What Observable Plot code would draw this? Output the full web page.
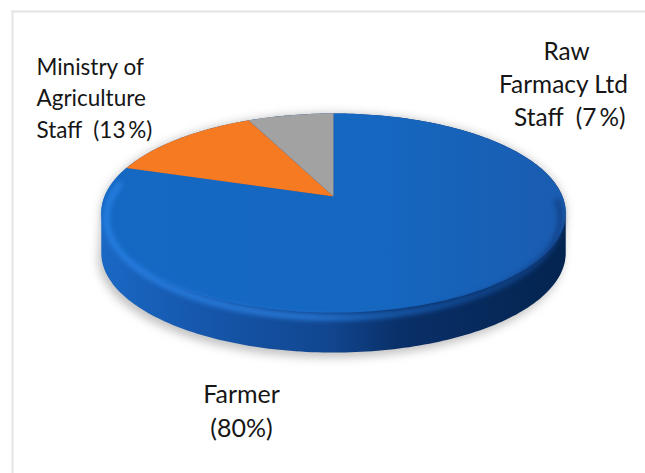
<!DOCTYPE html>
<html>
<head>
<meta charset="utf-8">
<script src="https://cdn.jsdelivr.net/npm/d3@7"></script>
<script src="https://cdn.jsdelivr.net/npm/@observablehq/plot@0.6"></script>
<style>
  html, body { margin: 0; padding: 0; background: #fff; }
  svg { display: block; }
</style>
</head>
<body>
<div id="chart"></div>
<script>
// Survey respondents by group (percent)
const groups = ["Farmer", "Ministry of Agriculture Staff", "Raw Farmacy Ltd Staff"];
const shares = [80, 13, 7];
const sliceColors = ["url(#faceBlue)", "#f67a21", "#a2a2a2"];

// Tilted-disc geometry, in pixel-sized scale units around the pie's hub
const spreadX = 229, spreadY = 96.8, tilt = 0.166, wallDepth = 40;

const project = (angle, dy = 0, dx = 0, shrink = 1) => {
  const u = Math.sin(angle), v = Math.cos(angle), w = 1 + tilt * v;
  return {x: shrink * spreadX * u / w + dx, y: spreadY * v / w - dy};
};

// One closed outline per slice: hub, then the arc of the rim
const arcs = d3.pie().sort(null)(shares);
const slicePoints = arcs.flatMap((a, i) => {
  const n = Math.ceil((a.endAngle - a.startAngle) / 0.02);
  const rim = d3.range(n + 1).map((j) => project(a.startAngle + (a.endAngle - a.startAngle) * j / n));
  return [{x: 0, y: 0}, ...rim, {x: 0, y: 0}].map((p) => ({...p, group: groups[i]}));
});

const fullRim = d3.range(0, 2 * Math.PI + 0.01, 0.02);
const hullOf = (dy, dx) => {
  const pts = fullRim.flatMap((a) => {
    const p = project(a), q = project(a, dy, dx);
    return [[p.x, p.y], [q.x, q.y]];
  });
  const hull = d3.polygonHull(pts);
  return [...hull, hull[0]].map(([x, y]) => ({x, y}));
};
const wall = hullOf(wallDepth, 0);
const shadow = hullOf(wallDepth + 5, -3);
// The bevel runs just inside the front edge of the disc
const frontRim = d3.range(Math.PI * 0.5, Math.PI * 1.56, 0.02).map((a) => project(a, 5, 0, 0.978));

// Applies a CSS blur to whatever a mark renders
const blurred = (px) => (index, scales, values, dims, context, next) => {
  const g = next(index, scales, values, dims, context);
  g.style.filter = `blur(${px}px)`;
  return g;
};

const gradient = (id, stops) => () => {
  const grad = d3.create("svg:linearGradient").attr("id", id);
  stops.forEach(([offset, color]) => grad.append("stop").attr("offset", offset).attr("stop-color", color));
  const defs = d3.create("svg:defs");
  defs.append(() => grad.node());
  return defs.node();
};

const label = (text, options) => Plot.text([text], {
  text: (d) => d,
  frameAnchor: "top-left",
  lineAnchor: "top",
  fontFamily: "Lato, 'Open Sans', sans-serif",
  fill: "#161616",
  ...options
});

const chart = Plot.plot({
  width: 645,
  height: 473,
  marginTop: 11,
  marginLeft: 12,
  marginRight: 0,
  marginBottom: 0,
  x: {domain: [-321, 312], axis: null},
  y: {domain: [-277, 185], axis: null},
  color: {domain: groups, range: sliceColors},
  marks: [
    gradient("wallShade", [[0, "#1a68c4"], [0.2, "#1658ae"], [0.49, "#11468f"], [0.64, "#0a3069"], [1, "#03244f"]]),
    gradient("faceBlue", [[0, "#1569c3"], [0.6, "#1567c0"], [1, "#1a5cb0"]]),
    gradient("rimGlow", [[0, "#2a82e6"], [0.45, "#2c80e0"], [0.6, "#1c68c0"], [0.78, "#14509e"], [1, "#123f85"]]),
    Plot.frame({anchor: "top", stroke: "#e4e4e4", strokeWidth: 2}),
    Plot.frame({anchor: "left", stroke: "#e4e4e4", strokeWidth: 2}),
    Plot.line(shadow, {x: "x", y: "y", fill: "#8f8f8f", fillOpacity: 0.55, stroke: "none", render: blurred(5)}),
    Plot.line(wall, {x: "x", y: "y", fill: "url(#wallShade)", stroke: "none"}),
    Plot.line(slicePoints, {x: "x", y: "y", z: "group", fill: "group", stroke: "none"}),
    Plot.line(frontRim, {x: "x", y: "y", stroke: "url(#rimGlow)", strokeWidth: 6, strokeOpacity: 0.85, render: blurred(2.5)}),
    label(`Ministry of\nAgriculture\nStaff\u00a0\u00a0(${shares[1]}\u2009%)`, {fontSize: 22.5, lineHeight: 1.4, textAnchor: "start", dx: 24, dy: 41}),
    label(`\u00a0Raw\nFarmacy Ltd\n\u00a0\u00a0Staff\u00a0\u00a0(${shares[2]}\u2009%)`, {fontSize: 24.4, lineHeight: 1.35, textAnchor: "middle", dx: 551, dy: 25}),
    label(`Farmer\n(${shares[0]}%)`, {fontSize: 25, lineHeight: 1.36, textAnchor: "middle", dx: 229, dy: 367})
  ]
});

document.getElementById("chart").append(chart);
</script>
</body>
</html>
